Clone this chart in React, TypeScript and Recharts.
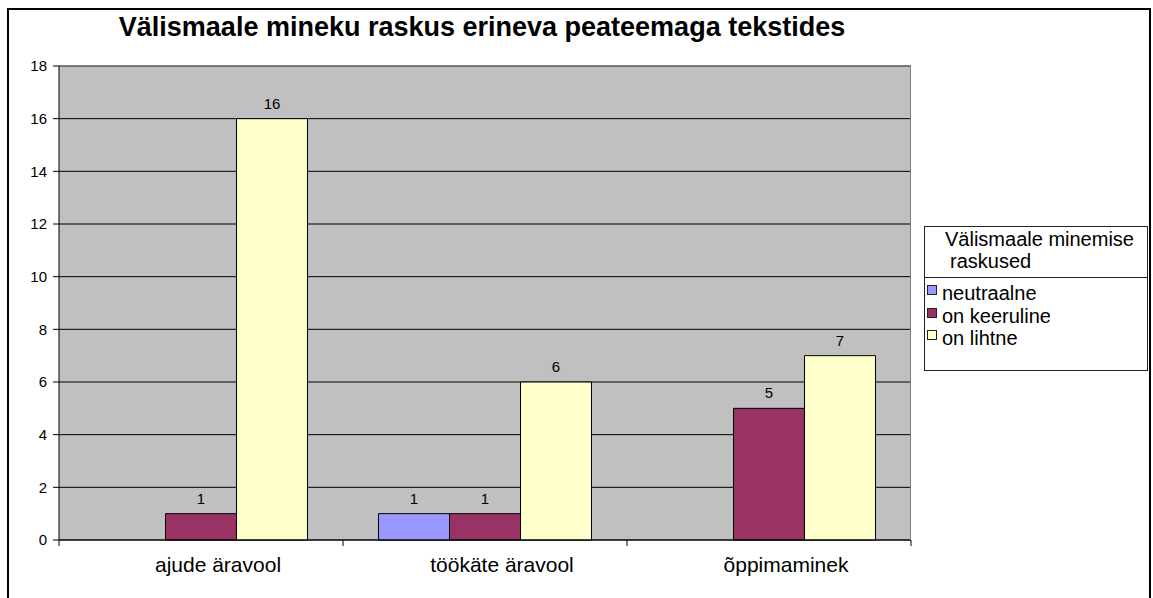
import React from 'react';
import { BarChart, Bar, XAxis, YAxis, CartesianGrid, Legend, LabelList, ReferenceLine } from 'recharts';

const categories = ['ajude äravool', 'töökäte äravool', 'õppimaminek'];
const neutraalne = [0, 1, 0];
const onKeeruline = [1, 1, 5];
const onLihtne = [16, 6, 7];
const yTicks = [0, 2, 4, 6, 8, 10, 12, 14, 16, 18];

const seriesInfo = [
  { key: 'neutraalne', name: 'neutraalne', color: '#9999FF' },
  { key: 'onKeeruline', name: 'on keeruline', color: '#993366' },
  { key: 'onLihtne', name: 'on lihtne', color: '#FFFFCC' },
];

const data = categories.map((name, i) => ({
  name,
  neutraalne: neutraalne[i],
  onKeeruline: onKeeruline[i],
  onLihtne: onLihtne[i],
}));

const font = '"Liberation Sans", Arial, sans-serif';

const hideZero = (v: any) => (v === 0 ? '' : v);

// category labels sit a bit right of centre, tick marks go on the category edges
const CategoryTick = (props: any) => {
  const { x, y, payload, index } = props;
  const half = payload && typeof payload.offset === 'number' ? payload.offset : 0;
  return (
    <g>
      {index === 0 && half > 0 && <line x1={x - half} x2={x - half} y1={y - 6} y2={y} stroke="#000" />}
      {half > 0 && <line x1={x + half} x2={x + half} y1={y - 6} y2={y} stroke="#000" />}
      <text x={x + 17} y={y + 11} dy="0.71em" textAnchor="middle" fill="#000" fontSize={21} fontFamily={font}>
        {payload.value}
      </text>
    </g>
  );
};

const LegendBox = () => (
  <div
    style={{
      width: 224,
      height: 145,
      boxSizing: 'border-box',
      border: '1px solid #222',
      background: '#fff',
      fontFamily: font,
      fontSize: 20,
      color: '#000',
    }}
  >
    <div style={{ height: 51, borderBottom: '1px solid #222', boxSizing: 'border-box' }}>
      <div style={{ height: 42, overflow: 'hidden', lineHeight: '21.5px', paddingTop: 2, boxSizing: 'border-box' }}>
        <div style={{ paddingLeft: 20, whiteSpace: 'nowrap' }}>Välismaale minemise</div>
        <div style={{ paddingLeft: 25, whiteSpace: 'nowrap' }}>raskused</div>
      </div>
    </div>
    <div style={{ paddingTop: 4 }}>
      {seriesInfo.map((s) => (
        <div key={s.key} style={{ position: 'relative', height: 22.5, lineHeight: '22.5px', paddingLeft: 17, whiteSpace: 'nowrap' }}>
          <span
            style={{
              position: 'absolute',
              left: 2,
              top: 3,
              width: 8,
              height: 8,
              background: s.color,
              border: '1px solid #222',
            }}
          />
          {s.name}
        </div>
      ))}
    </div>
  </div>
);

export default function App() {
  return (
    <div style={{ position: 'absolute', left: 0, top: 0, width: 1153, height: 598, background: '#fff', overflow: 'hidden' }}>
      <div
        style={{
          position: 'absolute',
          left: 7,
          top: 8,
          width: 1144,
          height: 620,
          border: '2px solid #000',
          boxSizing: 'border-box',
        }}
      />
      <div
        style={{
          position: 'absolute',
          left: 0,
          top: 12,
          width: 964,
          textAlign: 'center',
          fontFamily: font,
          fontWeight: 'bold',
          fontSize: 27,
          lineHeight: '31px',
          color: '#000',
          whiteSpace: 'nowrap',
        }}
      >
        Välismaale mineku raskus erineva peateemaga tekstides
      </div>
      <div style={{ position: 'absolute', left: 0, top: 0 }}>
        <BarChart
          width={1153}
          height={598}
          data={data}
          margin={{ top: 66, right: 242, left: 7, bottom: 18 }}
          barCategoryGap="12.5%"
          barGap={0}
        >
          <CartesianGrid vertical={false} stroke="#000" fill="#C0C0C0" />
          <XAxis
            dataKey="name"
            height={40}
            axisLine={{ stroke: '#000' }}
            tickLine={false}
            tickSize={6}
            tickMargin={0}
            interval={0}
            tick={<CategoryTick />}
          />
          <YAxis
            width={52}
            domain={[0, 18]}
            ticks={yTicks}
            interval={0}
            axisLine={{ stroke: '#000' }}
            tickLine={{ stroke: '#000' }}
            tickSize={6}
            tickMargin={6}
            tick={{ fill: '#000', fontSize: 15, fontFamily: font }}
          />
          <ReferenceLine y={18} stroke="#808080" />
          <Legend
            layout="vertical"
            align="center"
            verticalAlign="middle"
            content={() => <LegendBox />}
            wrapperStyle={{ left: 924, top: 226, width: 224, height: 145 }}
          />
          {seriesInfo.map((s) => (
            <Bar key={s.key} dataKey={s.key} name={s.name} fill={s.color} stroke="#000" strokeWidth={1} isAnimationActive={false}>
              <LabelList
                dataKey={s.key}
                position="top"
                offset={10}
                formatter={hideZero}
                style={{ fill: '#000', fontSize: 15, fontFamily: font }}
              />
            </Bar>
          ))}
        </BarChart>
      </div>
      <div
        style={{
          position: 'absolute',
          left: 910,
          top: 66,
          width: 1,
          height: 474,
          background: '#808080',
        }}
      />
    </div>
  );
}
